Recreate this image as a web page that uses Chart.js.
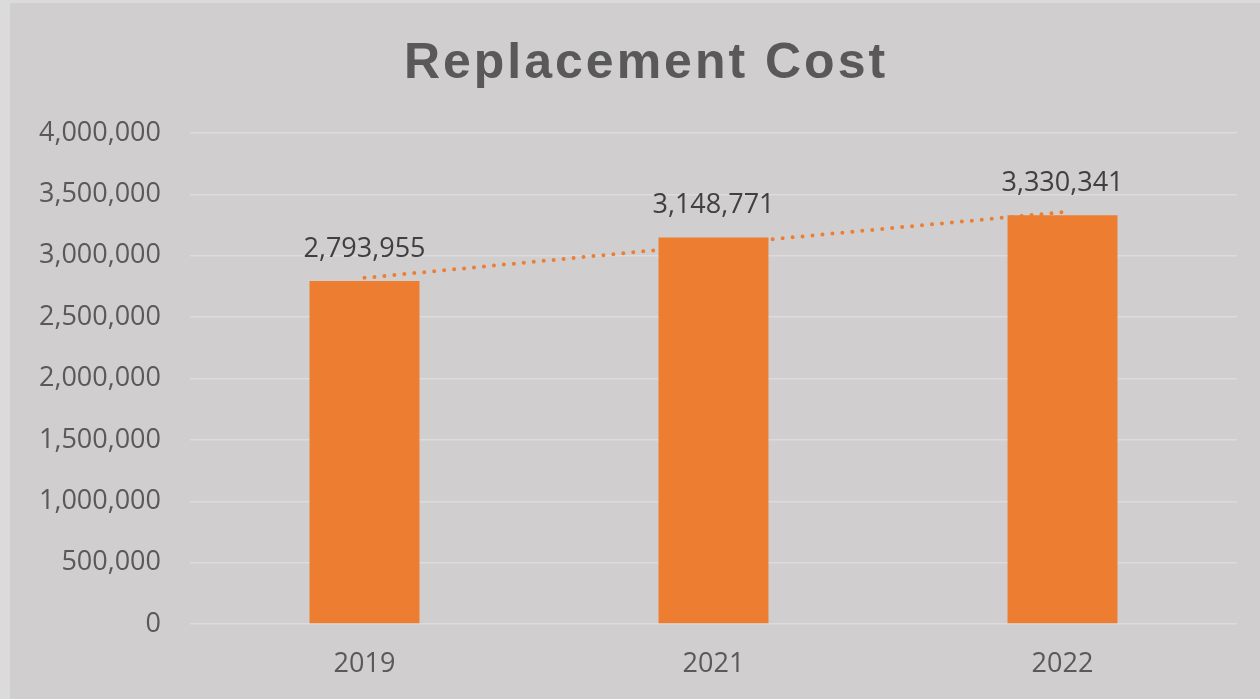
<!DOCTYPE html>
<html>
<head>
<meta charset="utf-8">
<script src="https://cdn.jsdelivr.net/npm/chart.js@4/dist/chart.umd.min.js"></script>
<style>
  html, body { margin: 0; padding: 0; background: #dcdbdb; }
  #wrap { position: absolute; left: 10px; top: 3px; width: 1250px; height: 696px; background: #d0cece; }
</style>
</head>
<body>
<div id="wrap"><canvas id="costChart"></canvas></div>
<script>
// years and replacement cost per year
const years = ['2019', '2021', '2022'];
const costs = [2793955, 3148771, 3330341];
// linear trend line values at each year
const trend = [2820000, 3090000, 3355000];

const chartTitle = 'Replacement Cost';
const tickFont = { family: 'Open Sans', size: 27 };

// value above each bar
const barLabels = {
    id: 'barLabels',
    afterDatasetsDraw(chart) {
        const ctx = chart.ctx;
        const meta = chart.getDatasetMeta(1);
        ctx.save();
        ctx.font = '27px "Open Sans"';
        ctx.fillStyle = '#404040';
        ctx.textAlign = 'center';
        ctx.textBaseline = 'middle';
        meta.data.forEach(function (bar, i) {
            ctx.fillText(costs[i].toLocaleString('en-US'), bar.x, bar.y - 32);
        });
        ctx.restore();
    }
};

// big spaced-out title at the top, a little right of the canvas centre
const titleText = {
    id: 'titleText',
    afterDraw(chart) {
        const ctx = chart.ctx;
        ctx.save();
        ctx.font = 'bold 50px "Liberation Sans"';
        ctx.letterSpacing = '3px';
        ctx.fillStyle = '#595959';
        ctx.textAlign = 'center';
        ctx.textBaseline = 'alphabetic';
        ctx.fillText(chartTitle, chart.width / 2 + 11, 75);
        ctx.restore();
    }
};

new Chart(document.getElementById('costChart'), {
    type: 'bar',
    data: {
        labels: years,
        datasets: [{
            type: 'line',
            label: 'Linear trend',
            data: trend,
            borderColor: '#ed7d31',
            borderWidth: 4,
            borderDash: [0, 10],
            borderCapStyle: 'round',
            pointRadius: 0,
            fill: false,
            order: 0
        }, {
            label: 'Replacement Cost',
            data: costs,
            backgroundColor: '#ed7d31',
            barPercentage: 1,
            categoryPercentage: 0.315,
            order: 1
        }]
    },
    options: {
        responsive: true,
        maintainAspectRatio: false,
        animation: false,
        layout: { padding: { left: 0, right: 23, top: 130, bottom: 0 } },
        plugins: {
            legend: { display: false },
            tooltip: { enabled: false },
            title: { display: false }
        },
        scales: {
            x: {
                grid: { display: false, drawTicks: false },
                border: { display: false },
                ticks: { color: '#595959', font: tickFont, padding: 24 },
                afterFit(scale) { scale.height = 75; }
            },
            y: {
                min: 0,
                max: 4000000,
                grid: { color: '#dcdcdc', lineWidth: 1.5, drawTicks: false },
                border: { display: false },
                ticks: {
                    stepSize: 500000,
                    color: '#595959',
                    font: tickFont,
                    padding: 29,
                    callback: (v) => v.toLocaleString('en-US')
                },
                afterFit(scale) { scale.width = 180; }
            }
        }
    },
    plugins: [barLabels, titleText]
});
</script>
</body>
</html>
